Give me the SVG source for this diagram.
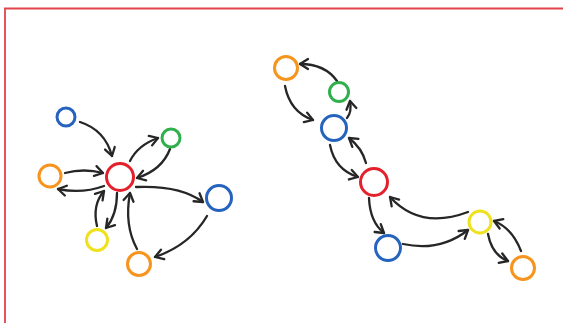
<svg xmlns="http://www.w3.org/2000/svg" width="563" height="323" viewBox="0 0 563 323">
<defs>
<style>
.n{fill:none;stroke-width:3}
.red{stroke:#e3202c}.blue{stroke:#2563bf}.green{stroke:#2fb04c}.orange{stroke:#f7941d}.yellow{stroke:#f0e11e}
.c{fill:none;stroke:#262626;stroke-width:2.3;stroke-linecap:round;marker-end:url(#ah)}
</style>
<marker id="ah" markerUnits="userSpaceOnUse" markerWidth="14" markerHeight="14" viewBox="-10 -7 14 14" refX="0" refY="0" orient="auto">
<path d="M-8,-5 L0,0 L-8,5" fill="none" stroke="#262626" stroke-width="2.3" stroke-linecap="round" stroke-linejoin="round"/>
</marker>
</defs>
<rect width="563" height="323" fill="#ffffff"/>
<path d="M5,323 V8.5 H563" fill="none" stroke="#e0434c" stroke-width="1.8"/>
<g id="connectors">
<path class="c" d="M80,122 Q105,130 112,156"/>
<path class="c" d="M65,173 Q84,168 103,173"/>
<path class="c" d="M104,186 Q82,194 58,189"/>
<path class="c" d="M130,161 Q138,145 158,138"/>
<path class="c" d="M170,149 Q162,170 137,178"/>
<path class="c" d="M136,187 Q180,185 203,202"/>
<path class="c" d="M207,216 Q190,245 155,257"/>
<path class="c" d="M137,249 Q124,225 130,193"/>
<path class="c" d="M117,193 Q117,215 106,228"/>
<path class="c" d="M97,226 Q92,205 104,191"/>
<path class="c" d="M285,86 Q290,112 313,120"/>
<path class="c" d="M337,81 Q325,64 300,64"/>
<path class="c" d="M347,118 Q352,112 350,101"/>
<path class="c" d="M330,145 Q335,170 358,177"/>
<path class="c" d="M366,163 Q362,148 349,138"/>
<path class="c" d="M369,198 Q370,222 384,233"/>
<path class="c" d="M403,244 Q440,252 468,230"/>
<path class="c" d="M468,212 Q420,230 390,197"/>
<path class="c" d="M488,234 Q492,255 508,261"/>
<path class="c" d="M521,251 Q512,228 494,221"/>
</g>
<g id="L-red"><circle class="n red" cx="120" cy="177" r="13.5"/></g>
<g id="L-blue1"><circle class="n blue" cx="66" cy="117" r="9"/></g>
<g id="L-green"><circle class="n green" cx="171" cy="138" r="9"/></g>
<g id="L-orange1"><circle class="n orange" cx="50" cy="176" r="11"/></g>
<g id="L-blue2"><circle class="n blue" cx="219" cy="198" r="12.5"/></g>
<g id="L-yellow"><circle class="n yellow" cx="97" cy="240" r="10.5"/></g>
<g id="L-orange2"><circle class="n orange" cx="139" cy="264" r="11.5"/></g>
<g id="R-orange1"><circle class="n orange" cx="286" cy="68" r="11.5"/></g>
<g id="R-green"><circle class="n green" cx="339" cy="92" r="9.5"/></g>
<g id="R-blue1"><circle class="n blue" cx="334" cy="128" r="12.5"/></g>
<g id="R-red"><circle class="n red" cx="374" cy="182" r="13.5"/></g>
<g id="R-blue2"><circle class="n blue" cx="388" cy="248" r="12.5"/></g>
<g id="R-yellow"><circle class="n yellow" cx="480" cy="222" r="11"/></g>
<g id="R-orange2"><circle class="n orange" cx="523" cy="268" r="11.5"/></g>
</svg>
